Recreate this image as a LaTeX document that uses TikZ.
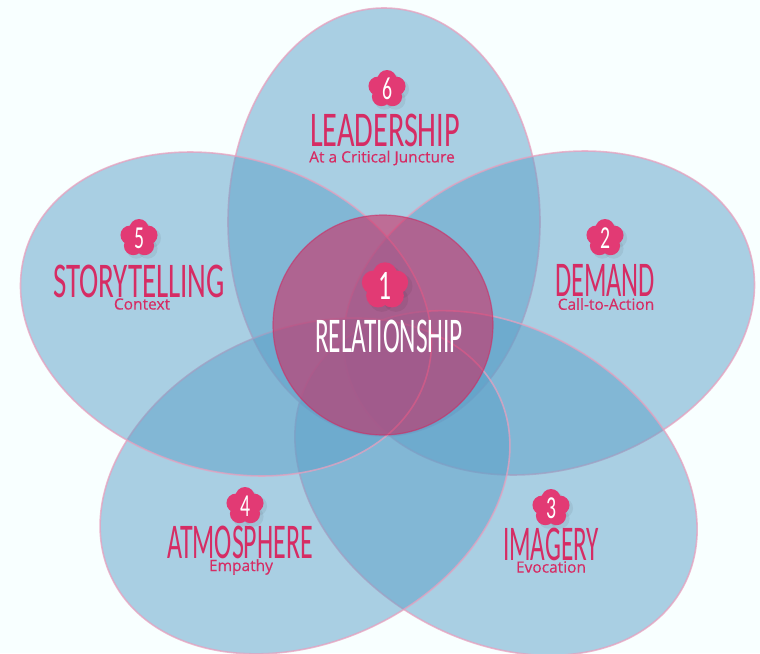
\documentclass[tikz,border=0pt]{standalone}
\usepackage{fontspec}
\usepackage{graphicx}
\setmainfont{Open Sans}
\newfontfamily\handfont{Carlito}
\newfontfamily\subfont[FakeBold=0.3]{Open Sans}
\definecolor{pagebg}{RGB}{248,255,255}
\definecolor{petalblue}{RGB}{92,160,200}
\definecolor{petaledge}{RGB}{232,160,190}
\definecolor{hubpink}{RGB}{205,45,100}
\definecolor{flowerpink}{RGB}{226,58,116}
\definecolor{titlepink}{RGB}{214,44,100}
% squeeze a hand title to its width
\newcommand{\squeezed}[2]{\resizebox{#1pt}{\height}{#2}}
\tikzset{
  petal/.style={fill=petalblue,fill opacity=0.5,draw=petaledge,draw opacity=0.75,line width=1.6pt},
  hub/.style={fill=hubpink,fill opacity=0.6,draw=hubpink,draw opacity=0.6,line width=1.2pt},
  title/.style={text=titlepink,font=\handfont\fontsize{50}{50}\selectfont,inner sep=0pt},
  subtitle/.style={text=titlepink,font=\subfont\fontsize{15.5}{16}\selectfont,inner sep=0pt},
  number/.style={text=white,font=\handfont\fontsize{32}{32}\selectfont,inner sep=0pt},
  pics/flower/.style={code={
    \foreach \a in {90,162,234,306,18} \fill[black,opacity=0.06] (3pt,-3pt) ++(\a:9.5pt) circle (10pt);
    \foreach \a in {90,162,234,306,18} \fill[flowerpink] (\a:9.5pt) circle (9.5pt);
    \fill[flowerpink] (0,0) circle (10pt);
  }}
}
\begin{document}
\begin{tikzpicture}[x=1pt,y=-1pt]
  \useasboundingbox[fill=pagebg] (0,0) rectangle (760,653);

  % Petals
  \draw[petal] (384,222) circle[x radius=156pt,y radius=214pt];
  \draw[petal] (549,313) circle[x radius=210pt,y radius=156pt,rotate=18];
  \draw[petal] (496,483) circle[x radius=214pt,y radius=156pt,rotate=-30];
  \draw[petal] (305,486) circle[x radius=214pt,y radius=156pt,rotate=25];
  \draw[petal] (226,314) circle[x radius=210pt,y radius=156pt,rotate=-18];

  % Hub
  \draw[hub] (383,325) circle (110pt);

  % Flowers and numbers
  \foreach \n/\fx/\fy in {6/387/89,5/139/238,2/605/238,4/245/506,3/551/508} {
    \pic at (\fx,\fy) {flower};
    \node[number] (num\n) at (\fx,\fy) {\squeezed{10}{\n}};
  }
  \pic[scale=1.25] at (385,286) {flower};
  \node[number,font=\handfont\fontsize{42}{42}\selectfont] (num1) at (385,286) {\squeezed{13}{1}};

  % Titles
  \node[title] (leadership) at (385,130) {\squeezed{150}{LEADERSHIP}};
  \node[title] (storytelling) at (139,281) {\squeezed{172}{STORYTELLING}};
  \node[title] (demand) at (605,280) {\squeezed{100}{DEMAND}};
  \node[title] (atmosphere) at (240,542) {\squeezed{146}{ATMOSPHERE}};
  \node[title] (imagery) at (551,544) {\squeezed{96}{IMAGERY}};
  \node[title,text=white] (relationship) at (389,336) {\squeezed{148}{RELATIONSHIP}};

  % Subtitles
  \node[subtitle] (juncture) at (382,158) {At a Critical Juncture};
  \node[subtitle] (context) at (142,304) {Context};
  \node[subtitle] (action) at (606,304) {Call-to-Action};
  \node[subtitle] (empathy) at (241,567) {Empathy};
  \node[subtitle] (evocation) at (551,567) {Evocation};
\end{tikzpicture}
\end{document}
